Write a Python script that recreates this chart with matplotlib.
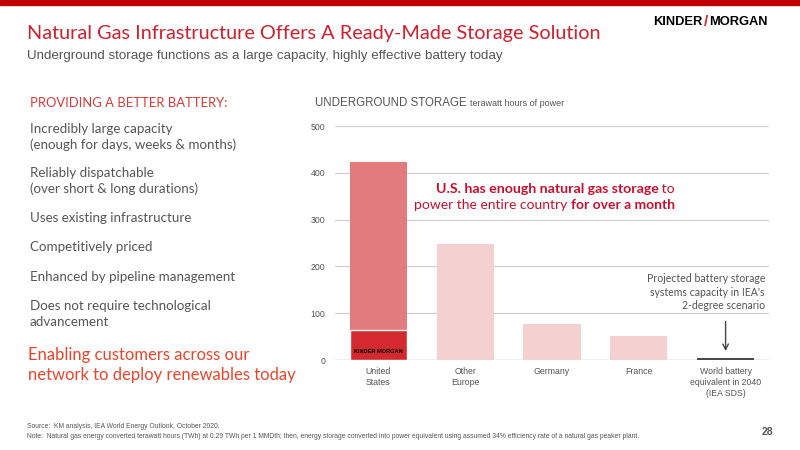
import matplotlib.pyplot as plt
from matplotlib.patches import Rectangle

# data
categories = ["United\nStates", "Other\nEurope", "Germany", "France",
              "World battery\nequivalent in 2040\n(IEA SDS)"]
storage_twh = [423, 247, 76, 51, 5]
km_storage_twh = 64   # Kinder Morgan share of the U.S. bar
yticks = [0, 100, 200, 300, 400, 500]

bullets = [
    "Incredibly large capacity\n(enough for days, weeks & months)",
    "Reliably dispatchable\n(over short & long durations)",
    "Uses existing infrastructure",
    "Competitively priced",
    "Enhanced by pipeline management",
    "Does not require technological\nadvancement",
]
bullet_y = [137, 181, 218, 247, 277, 314]

RED = "#C8102E"
GRAY = "#555555"
BODY = "Lato"
SANS = "Liberation Sans"

fig = plt.figure(figsize=(8, 4.5), dpi=100)
W, H = 800, 450


def px(x, y):
    return x / W, 1 - y / H


# top band
fig.patches.append(Rectangle((0, 1 - 5 / H), 1, 5 / H, transform=fig.transFigure,
                             color="#C00000", zorder=0))

# titles
fig.text(*px(27, 33), "Natural Gas Infrastructure Offers A Ready-Made Storage Solution",
         color="#D0202E", fontsize=14.3, family=BODY, va="center")
fig.text(*px(27, 56), "Underground storage functions as a large capacity, highly effective battery today",
         color=GRAY, fontsize=9.6, family=SANS, va="center")

# logo
kx, ky = px(706, 22)
fig.text(kx - 0.004, ky, "KINDER", fontsize=9.3, fontweight="heavy", family=SANS,
         ha="right", va="center", color="black")
fig.text(kx, ky, "/", fontsize=11, fontweight="bold", family=SANS,
         ha="center", va="center", color="#D42A2F")
fig.text(kx + 0.004, ky, "MORGAN", fontsize=9.3, fontweight="heavy", family=SANS,
         ha="left", va="center", color="black")

# left panel
fig.text(*px(30, 103), "PROVIDING A BETTER BATTERY:", color="#D83A3A", fontsize=9.4,
         family=BODY, va="center")
for txt, y in zip(bullets, bullet_y):
    fig.text(*px(30, y), txt, color=GRAY, fontsize=9.6, family=BODY, va="center",
             linespacing=1.35)
fig.text(*px(28, 365), "Enabling customers across our\nnetwork to deploy renewables today",
         color="#E8462C", fontsize=12, family=BODY, va="center", linespacing=1.3)

# chart
ax = fig.add_axes([335 / W, 1 - 360 / H, 434 / W, 234 / H])
x = range(len(categories))
colors = ["#E27B7B", "#F5D0D0", "#F5D0D0", "#F5D0D0", "#4A4A4A"]
ax.bar(x, storage_twh, width=0.66, color=colors, zorder=2)
ax.bar(0, km_storage_twh, width=0.66, color="#D42A2F", edgecolor="white",
       linewidth=1, zorder=3)
ax.text(0, km_storage_twh * 0.27, "KINDER MORGAN", fontsize=4.1, fontweight="bold",
        family=SANS, ha="center", va="center", color="black", zorder=4)

ax.set_xlim(-0.5, len(categories) - 0.5)
ax.set_ylim(0, 500)
ax.set_yticks(yticks)
ax.set_xticks(list(x))
ax.set_xticklabels(categories, fontsize=6.3, color=GRAY, family=SANS, linespacing=1.3)
ax.tick_params(axis="y", labelsize=6.3, labelcolor=GRAY, length=0, pad=7)
ax.tick_params(axis="x", length=0, pad=5)
for lbl in ax.get_yticklabels():
    lbl.set_family(SANS)
ax.grid(axis="y", color="#D0D0D0", linewidth=0.9, zorder=0)
for s in ax.spines.values():
    s.set_visible(False)
ax.axhline(0, color="#C8C8C8", linewidth=1, zorder=1)

fig.text(*px(315, 103), "UNDERGROUND STORAGE", color=GRAY, fontsize=8.3, family=SANS, va="center")
fig.text(*px(470, 104), "terawatt hours of power", color=GRAY, fontsize=6.5, family=SANS, va="center")

# callout with mixed weights, right aligned
r1 = fig.text(*px(675, 189), " to", color=RED, fontsize=10.2, family=BODY,
              ha="right", va="center")
ax.annotate("U.S. has enough natural gas storage", xy=(0, 0.5), xycoords=r1,
            ha="right", va="center", color=RED, fontsize=10.2, family=BODY, fontweight="bold")
r2 = fig.text(*px(675, 205), "for over a month", color=RED, fontsize=10, family=BODY,
              fontweight="bold", ha="right", va="center")
ax.annotate("power the entire country ", xy=(0, 0.5), xycoords=r2,
            ha="right", va="center", color=RED, fontsize=10, family=BODY)

fig.text(*px(765, 292), "Projected battery storage\nsystems capacity in IEA's\n2-degree scenario",
         color=GRAY, fontsize=7.6, family=BODY, ha="right", va="center", linespacing=1.25)
ax.annotate("", xy=(4, 19), xytext=(4, 82),
            arrowprops=dict(arrowstyle="->", color="#444444", lw=1, shrinkA=0, shrinkB=0))

# footer
fig.text(*px(27, 426), "Source:  KM analysis, IEA World Energy Outlook, October 2020.",
         color=GRAY, fontsize=4.9, family=SANS, va="center")
fig.text(*px(27, 436), "Note:  Natural gas energy converted terawatt hours (TWh) at 0.29 TWh per 1 MMDth; then, energy storage "
         "converted into power equivalent using assumed 34% efficiency rate of a natural gas peaker plant.",
         color=GRAY, fontsize=4.85, family=SANS, va="center")
fig.text(*px(773, 432), "28", color=GRAY, fontsize=7.5, fontweight="bold", family=SANS,
         ha="right", va="center")

fig.savefig("out.png", dpi=100)
